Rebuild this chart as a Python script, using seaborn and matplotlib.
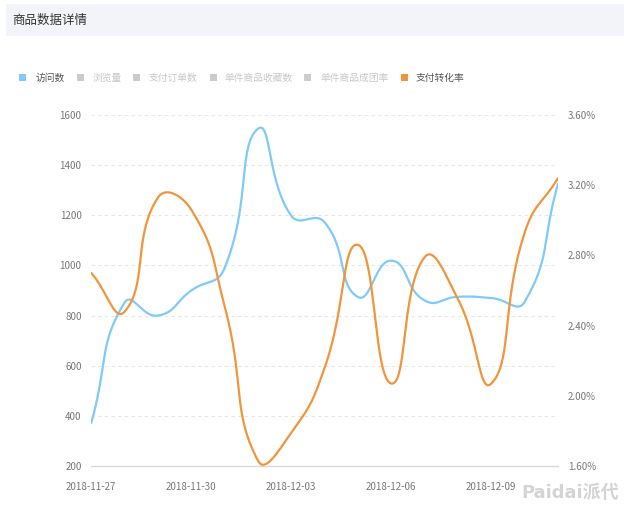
import numpy as np
import pandas as pd
import matplotlib
matplotlib.use("Agg")
import matplotlib.pyplot as plt
from matplotlib.patches import Rectangle
import seaborn as sns

# data
dates = ["2018-11-27", "2018-11-28", "2018-11-29", "2018-11-30", "2018-12-01",
         "2018-12-02", "2018-12-03", "2018-12-04", "2018-12-05", "2018-12-06",
         "2018-12-07", "2018-12-08", "2018-12-09", "2018-12-10", "2018-12-11"]
visits = [372, 852, 800, 900, 990, 1545, 1198, 1172, 874, 1019, 860, 875, 870, 855, 1325]
pay_rate = [2.70, 2.48, 3.13, 3.06, 2.51, 1.63, 1.79, 2.16, 2.86, 2.07, 2.79, 2.55, 2.07, 2.93, 3.24]

legend_names = ["访问数", "浏览量", "支付订单数", "单件商品收藏数", "单件商品成团率", "支付转化率"]
legend_colors = ["#7fcaf8", "#cccccc", "#cccccc", "#cccccc", "#cccccc", "#f0953b"]
legend_text_colors = ["#555555", "#c8c8c8", "#c8c8c8", "#c8c8c8", "#c8c8c8", "#555555"]
left_ticks = [200, 400, 600, 800, 1000, 1200, 1400, 1600]
right_ticks = [1.6, 2.0, 2.4, 2.8, 3.2, 3.6]

sns.set_theme(style="white")
plt.rcParams["font.family"] = ["Noto Sans CJK SC", "DejaVu Sans"]

W, H = 624, 516


def smooth_curve(xs, ys, sx, sy, smooth=0.5, n=40):
    # echarts-like bezier smoothing, computed in pixel space
    px = np.asarray(xs, float) * sx
    py = np.asarray(ys, float) * sy
    pts = np.column_stack([px, py])
    m = len(pts)
    cps = []
    for i in range(m):
        prev = pts[max(i - 1, 0)]
        nxt = pts[min(i + 1, m - 1)]
        v = nxt - prev
        d0 = np.linalg.norm(pts[i] - prev)
        d1 = np.linalg.norm(nxt - pts[i])
        s = d0 + d1
        if s == 0:
            cps.append((pts[i], pts[i]))
            continue
        cps.append((pts[i] - v * smooth * d0 / s, pts[i] + v * smooth * d1 / s))
    out = [pts[0]]
    t = np.linspace(0, 1, n)[1:, None]
    for i in range(m - 1):
        p0, p3 = pts[i], pts[i + 1]
        p1, p2 = cps[i][1], cps[i + 1][0]
        seg = ((1 - t) ** 3) * p0 + 3 * ((1 - t) ** 2) * t * p1 + 3 * (1 - t) * t ** 2 * p2 + t ** 3 * p3
        out.extend(seg)
    out = np.array(out)
    return out[:, 0] / sx, out[:, 1] / sy


fig = plt.figure(figsize=(W / 100, H / 100), dpi=100)
fig.patch.set_facecolor("white")

# title band
fig.patches.append(Rectangle((6 / W, 1 - 36 / H), 1 - 6 / W, 32 / H,
                             transform=fig.transFigure, facecolor="#f3f4f9",
                             edgecolor="none", zorder=0))
fig.text(12 / W, 1 - 20 / H, "商品数据详情", fontsize=9, color="#333333", va="center")

# legend
sq_x = [19, 77, 133, 210, 304, 401]
tx_x = [36, 93, 149, 224, 320, 416]
for name, c, tc, sx_, tx_ in zip(legend_names, legend_colors, legend_text_colors, sq_x, tx_x):
    fig.patches.append(Rectangle((sx_ / W, 1 - 81 / H), 7 / W, 7 / H,
                                 transform=fig.transFigure, facecolor=c, edgecolor="none"))
    fig.text(tx_ / W, 1 - 77.5 / H, name, fontsize=7, color=tc, va="center")

x0, x1, ytop, ybot = 91.3, 558, 115, 466
ax = fig.add_axes([x0 / W, 1 - ybot / H, (x1 - x0) / W, (ybot - ytop) / H])
ax2 = ax.twinx()

days = np.arange(len(dates))
df = pd.DataFrame({"day": days, "visits": visits, "rate": pay_rate})

px_per_day = (x1 - x0) / 14
vx, vy = smooth_curve(df["day"], df["visits"], px_per_day, (ybot - ytop) / 1400)
rx, ry = smooth_curve(df["day"], df["rate"], px_per_day, (ybot - ytop) / 2.0)

sns.lineplot(x=vx, y=vy, ax=ax, color="#7fcaf8", linewidth=1.6, sort=False, estimator=None)
sns.lineplot(x=rx, y=ry, ax=ax2, color="#f0953b", linewidth=1.6, sort=False, estimator=None)

ax.set_xlim(0, 14)
ax.set_ylim(200, 1600)
ax2.set_ylim(1.6, 3.6)

ax.set_yticks(left_ticks)
ax.set_yticklabels([str(v) for v in left_ticks])
ax2.set_yticks(right_ticks)
ax2.set_yticklabels([f"{v:.2f}%" for v in right_ticks])
ax.set_xticks(days[::3])
ax.set_xticklabels([dates[i] for i in days[::3]])

for a in (ax, ax2):
    for s in a.spines.values():
        s.set_visible(False)
    a.set_xlabel("")
    a.set_ylabel("")
ax.spines["bottom"].set_visible(True)
ax.spines["bottom"].set_color("#d9d9d9")
ax.spines["bottom"].set_linewidth(1)

ax.tick_params(axis="y", length=0, pad=7, labelsize=7, labelcolor="#777777")
ax2.tick_params(axis="y", length=0, pad=7, labelsize=7, labelcolor="#777777")
ax.tick_params(axis="x", length=3.5, width=0.8, color="#d9d9d9", direction="out",
               pad=8, labelsize=7, labelcolor="#777777")

for v in left_ticks[1:]:
    ax.axhline(v, color="#e6e6e6", linewidth=0.8, linestyle=(0, (3, 3)), zorder=0)

# watermark
fig.text(619 / W, 1 - 493 / H, "Paidai派代", fontsize=13, fontweight="bold",
         color="#d4d4d4", ha="right", va="center",
         family=["DejaVu Sans", "Noto Sans CJK SC"])

fig.savefig("out.png", dpi=100)
